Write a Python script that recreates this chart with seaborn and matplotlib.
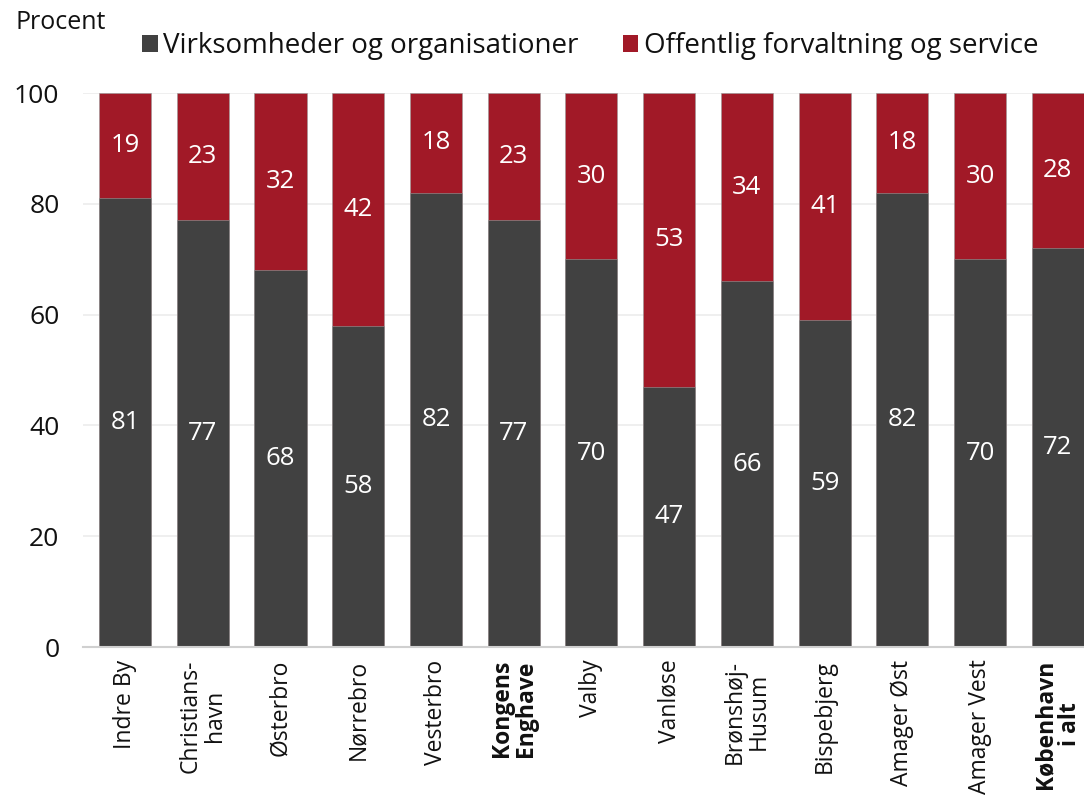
import matplotlib
matplotlib.use("Agg")
import matplotlib.pyplot as plt
from matplotlib.patches import Patch
import seaborn as sns
import pandas as pd

# Shares of employment by district (percent)
districts = ["Indre By", "Christians-\nhavn", "Østerbro", "Nørrebro", "Vesterbro",
             "Kongens\nEnghave", "Valby", "Vanløse", "Brønshøj-\nHusum", "Bispebjerg",
             "Amager Øst", "Amager Vest", "København\ni alt"]
virksomheder = [81, 77, 68, 58, 82, 77, 70, 47, 66, 59, 82, 70, 72]
offentlig = [19, 23, 32, 42, 18, 23, 30, 53, 34, 41, 18, 30, 28]
bold_labels = ["Kongens\nEnghave", "København\ni alt"]

series_names = ["Virksomheder og organisationer", "Offentlig forvaltning og service"]
colors = ["#414141", "#A11927"]

sns.set_theme(style="white")
plt.rcParams["font.family"] = ["Open Sans", "DejaVu Sans"]

df = pd.DataFrame({"district": districts, "virk": virksomheder, "off": offentlig})
df["total"] = df["virk"] + df["off"]

fig = plt.figure(figsize=(10.84, 7.95), dpi=100)
ax = fig.add_axes([0.0766, 0.186, 0.938, 0.697])

# Full-height red bars, dark bars drawn over them
sns.barplot(data=df, x="district", y="total", order=districts, color=colors[1],
            width=0.67, saturation=1, ax=ax, edgecolor="#9a9a9a", linewidth=0.4)
sns.barplot(data=df, x="district", y="virk", order=districts, color=colors[0],
            width=0.67, saturation=1, ax=ax, edgecolor="#9a9a9a", linewidth=0.4)

# Value labels in the middle of each segment
for i, row in df.iterrows():
    ax.text(i, row["virk"] / 2, f"{row['virk']:.0f}", ha="center", va="center",
            color="white", fontsize=18.5)
    ax.text(i, row["virk"] + row["off"] / 2, f"{row['off']:.0f}", ha="center",
            va="center", color="white", fontsize=18.5)

ax.set_ylim(0, 100)
ax.set_xlim(-0.54, len(districts) - 0.46)
ax.set_yticks(range(0, 101, 20))
ax.yaxis.grid(True, color="#ececec", linewidth=1.2)
ax.set_axisbelow(True)
for side in ["left", "right", "top"]:
    ax.spines[side].set_visible(False)
ax.spines["bottom"].set_color("#d0d0d0")
ax.spines["bottom"].set_linewidth(1.5)
ax.tick_params(axis="y", labelsize=19, length=0, pad=17, labelcolor="#111111")
ax.tick_params(axis="x", length=0, pad=9)
ax.set_xlabel("")
ax.set_ylabel("")

ax.set_xticks(range(len(districts)))
ax.set_xticklabels(districts, rotation=90, fontsize=16.5, ha="center", va="top",
                   multialignment="center", color="#111111", linespacing=1.0)
for lbl in ax.get_xticklabels():
    if lbl.get_text() in bold_labels:
        lbl.set_fontweight("bold")

fig.text(0.014, 0.972, "Procent", fontsize=18, ha="left", va="center", color="#111111")

handles = [Patch(facecolor=c, edgecolor="none") for c in colors]
fig.legend(handles, series_names, loc="center left", bbox_to_anchor=(0.121, 0.942),
           ncol=2, frameon=False, fontsize=20, handlelength=0.55, handleheight=0.55,
           handletextpad=0.2, columnspacing=1.6, borderaxespad=0, labelcolor="#111111")

fig.savefig("out.png", dpi=100)
